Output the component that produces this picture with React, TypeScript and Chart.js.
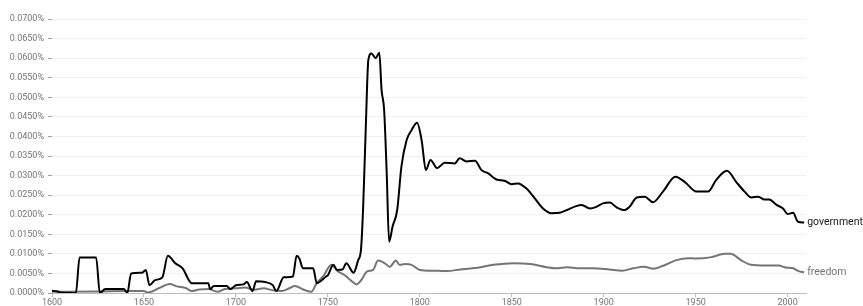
import React, { useEffect, useRef } from "react";
import { Chart, registerables } from "chart.js";

Chart.register(...registerables);

// Years (x) and relative frequencies (in percent)
const govYears = [
  1600, 1603, 1605, 1613, 1615, 1624, 1626, 1629, 1639, 1641, 1643, 1649, 1651, 1653,
  1656, 1660, 1663, 1667, 1671, 1676, 1685, 1686, 1688, 1695, 1697, 1700, 1704, 1706,
  1709, 1711, 1716, 1720, 1722, 1726, 1731, 1733, 1734.5, 1736.5, 1742, 1744, 1746,
  1749, 1750, 1753, 1755, 1758, 1760, 1764, 1766.5, 1768, 1769.2, 1770.7, 1772, 1773.7,
  1776, 1778, 1779.2, 1780.6, 1782, 1783.3, 1785.2, 1787.7, 1790, 1792.8, 1795.5,
  1798.5, 1801, 1803.3, 1805.8, 1809.4, 1813.6, 1819, 1821.7, 1825.4, 1830, 1833.5,
  1837, 1841.7, 1846, 1850, 1853.4, 1858, 1862.5, 1867, 1871.6, 1876, 1880, 1885, 1888,
  1892.4, 1896, 1899.6, 1903.3, 1907, 1911.4, 1914, 1918, 1922.3, 1926.8, 1932.2, 1939,
  1944, 1950.4, 1956.7, 1961.2, 1967, 1972, 1976.6, 1980.3, 1984, 1987.5, 1990, 1994,
  1997.5, 2000, 2003, 2005.6, 2009,
];
const govValues = [
  0.0006, 0.0004, 0.0001, 0.0, 0.0091, 0.0091, 0.0, 0.001, 0.001, 0.0, 0.005, 0.0052,
  0.0059, 0.002, 0.0033, 0.004, 0.0095, 0.0076, 0.0063, 0.0025, 0.0025, 0.001, 0.0018,
  0.0018, 0.001, 0.002, 0.0022, 0.0028, 0.0005, 0.003, 0.0028, 0.002, 0.0005, 0.004,
  0.0042, 0.0095, 0.0088, 0.0063, 0.0063, 0.0025, 0.003, 0.0042, 0.0045, 0.0072, 0.0059,
  0.006, 0.0076, 0.0052, 0.0084, 0.011, 0.022, 0.0434, 0.0595, 0.0612, 0.06, 0.0614,
  0.0519, 0.0468, 0.0307, 0.0131, 0.017, 0.0212, 0.0323, 0.039, 0.0416, 0.0435, 0.039,
  0.0314, 0.034, 0.0319, 0.0333, 0.0331, 0.0344, 0.0336, 0.0338, 0.0314, 0.0306, 0.029,
  0.0287, 0.0278, 0.028, 0.0267, 0.0242, 0.0216, 0.0204, 0.0205, 0.0212, 0.0222, 0.0225,
  0.0216, 0.022, 0.0229, 0.0231, 0.0219, 0.0212, 0.022, 0.0244, 0.0246, 0.0232, 0.0259,
  0.0297, 0.0284, 0.0259, 0.0259, 0.0289, 0.0312, 0.0284, 0.0259, 0.0244, 0.0246, 0.0239,
  0.0239, 0.0225, 0.0216, 0.0202, 0.0205, 0.0182, 0.018,
];

const freeYears = [
  1600, 1625, 1640, 1650, 1652, 1658, 1664, 1668, 1673, 1676, 1680, 1685, 1690, 1694,
  1700, 1705, 1710, 1715, 1720, 1725, 1729, 1732, 1736.6, 1741, 1744, 1747.5, 1752, 1755,
  1759, 1763, 1765.6, 1768, 1771.4, 1774.6, 1777.3, 1781, 1783.7, 1787, 1789, 1792,
  1795.5, 1800, 1807, 1814, 1822, 1833, 1840, 1851, 1860, 1869, 1874, 1880, 1887, 1894,
  1903, 1910, 1916, 1922, 1927, 1932, 1939.5, 1946, 1950, 1958, 1966, 1969, 1975, 1980,
  1988, 1995, 1999, 2003, 2006, 2009,
];
const freeValues = [
  0.0003, 0.0004, 0.0005, 0.0005, 0.0001, 0.0012, 0.0023, 0.0017, 0.0012, 0.0005, 0.0009,
  0.001, 0.0003, 0.001, 0.0012, 0.0014, 0.0008, 0.0012, 0.0007, 0.0005, 0.0012, 0.0018,
  0.0009, 0.0003, 0.0026, 0.0043, 0.0072, 0.0057, 0.0046, 0.003, 0.0022, 0.0032, 0.0055,
  0.0059, 0.0083, 0.0076, 0.0067, 0.0083, 0.0072, 0.0074, 0.0072, 0.0059, 0.0057, 0.0056,
  0.006, 0.0066, 0.0072, 0.0076, 0.0074, 0.0066, 0.0063, 0.0066, 0.0063, 0.0063, 0.006,
  0.0057, 0.0063, 0.0067, 0.0062, 0.0069, 0.0084, 0.0089, 0.0088, 0.0091, 0.01, 0.01,
  0.0083, 0.0072, 0.007, 0.007, 0.0065, 0.0063, 0.0056, 0.0053,
];

const seriesNames = ["government", "freedom"];
const seriesColors = ["#000000", "#757575"];
const labelColors = ["#212121", "#757575"];

const endLabels = {
  id: "endLabels",
  afterDatasetsDraw(chart: any) {
    const ctx = chart.ctx;
    ctx.save();
    ctx.font = "10.5px Roboto";
    ctx.textBaseline = "middle";
    ctx.textAlign = "left";
    chart.data.datasets.forEach((ds: any, i: number) => {
      const meta = chart.getDatasetMeta(i);
      const pt = meta.data[meta.data.length - 1];
      if (!pt) return;
      ctx.fillStyle = labelColors[i];
      ctx.fillText(ds.label, pt.x + 3, pt.y);
    });
    ctx.restore();
  },
};

export default function App() {
  const ref = useRef<HTMLCanvasElement>(null);
  useEffect(() => {
    if (!ref.current) return;
    Chart.defaults.font.family = "Roboto";
    const chart = new Chart(ref.current, {
      type: "line",
      data: {
        datasets: [
          {
            label: seriesNames[0],
            data: govYears.map((x, i) => ({ x, y: govValues[i] })),
            borderColor: seriesColors[0],
            borderWidth: 2,
            pointRadius: 0,
            cubicInterpolationMode: "monotone",
            fill: false,
          },
          {
            label: seriesNames[1],
            data: freeYears.map((x, i) => ({ x, y: freeValues[i] })),
            borderColor: seriesColors[1],
            borderWidth: 2,
            pointRadius: 0,
            cubicInterpolationMode: "monotone",
            fill: false,
          },
        ],
      },
      options: {
        responsive: false,
        animation: false,
        devicePixelRatio: 1,
        layout: { padding: { top: 19, right: 57, left: 0, bottom: 0 } },
        plugins: { legend: { display: false }, tooltip: { enabled: false } },
        scales: {
          x: {
            type: "linear",
            min: 1600,
            max: 2010,
            afterFit: (s: any) => {
              s.height = 13;
            },
            border: { display: true, color: "#bdbdbd", width: 1 },
            grid: {
              drawOnChartArea: false,
              drawTicks: true,
              tickLength: 4,
              tickColor: "#bdbdbd",
            },
            ticks: {
              stepSize: 50,
              includeBounds: false,
              maxRotation: 0,
              padding: 0,
              color: "#757575",
              font: { size: 9 },
              callback: (v: any) => String(v),
            },
          },
          y: {
            min: 0,
            max: 0.07,
            afterFit: (s: any) => {
              s.width = 52;
            },
            border: { display: false },
            grid: {
              color: "#f0f0f0",
              drawTicks: true,
              tickLength: 4,
              tickColor: "#9e9e9e",
            },
            ticks: {
              stepSize: 0.005,
              padding: 4,
              color: "#757575",
              font: { size: 9 },
              callback: (v: any) => Number(v).toFixed(4) + "%",
            },
          },
        },
      },
      plugins: [endLabels],
    });
    return () => chart.destroy();
  }, []);
  return (
    <div
      style={{
        position: "fixed",
        left: 0,
        top: 0,
        width: 863,
        height: 306,
        background: "#fff",
      }}
    >
      <canvas ref={ref} width={863} height={306} style={{ width: 863, height: 306 }} />
    </div>
  );
}
